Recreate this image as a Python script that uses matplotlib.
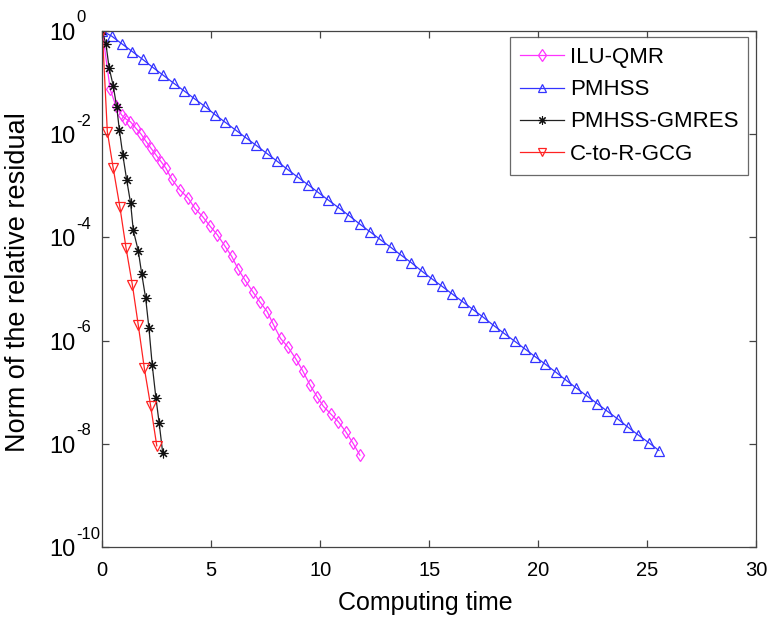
import matplotlib
matplotlib.use("Agg")
import numpy as np
import matplotlib.pyplot as plt
from matplotlib.ticker import FixedLocator, NullLocator
from matplotlib.transforms import ScaledTranslation

plt.rcParams['font.family'] = ['Liberation Sans', 'DejaVu Sans']

# ---- data ----
ilu_qmr_t = [0, 0.36, 0.62, 0.89, 1.06, 1.29, 1.55, 1.78, 1.99, 2.23,
             2.46, 2.69, 2.92, 3.18, 3.56, 3.94, 4.25, 4.61, 4.94, 5.28,
             5.63, 5.94, 6.24, 6.55, 6.90, 7.23, 7.57, 7.84, 8.18, 8.53,
             8.89, 9.19, 9.53, 9.86, 10.14, 10.48, 10.83, 11.18, 11.51, 11.82]
ilu_qmr_r = [1.0, 0.0741, 0.0355, 0.0234, 0.0200, 0.0174, 0.0129, 0.0100, 7.41e-3, 5.37e-3,
             3.98e-3, 2.95e-3, 2.19e-3, 1.35e-3, 8.32e-4, 5.75e-4, 3.63e-4, 2.51e-4, 1.66e-4, 1.12e-4,
             6.76e-5, 4.27e-5, 2.40e-5, 1.48e-5, 8.91e-6, 5.62e-6, 3.63e-6, 2.09e-6, 1.10e-6, 7.41e-7,
             4.37e-7, 2.63e-7, 1.38e-7, 8.13e-8, 5.37e-8, 3.80e-8, 2.69e-8, 1.70e-8, 1.02e-8, 6.03e-9]

pmhss_t = [0, 0.43, 0.90, 1.38, 1.85, 2.33, 2.80, 3.27, 3.75, 4.22, 4.70,
           5.17, 5.64, 6.12, 6.59, 7.07, 7.54, 8.01, 8.49, 8.96, 9.44,
           9.91, 10.38, 10.86, 11.33, 11.81, 12.28, 12.75, 13.23, 13.70, 14.18,
           14.65, 15.12, 15.60, 16.07, 16.55, 17.02, 17.49, 17.97, 18.44, 18.92,
           19.39, 19.86, 20.34, 20.81, 21.29, 21.76, 22.23, 22.71, 23.18, 23.66,
           24.13, 24.60, 25.08, 25.55]
pmhss_r = [1.0, 0.794, 0.562, 0.398, 0.282, 0.195, 0.138, 0.0977, 0.0692, 0.0490, 0.0347,
           0.0240, 0.0170, 0.0120, 8.51e-3, 6.03e-3, 4.27e-3, 3.02e-3, 2.09e-3, 1.48e-3, 1.05e-3,
           7.41e-4, 5.25e-4, 3.72e-4, 2.63e-4, 1.82e-4, 1.29e-4, 9.12e-5, 6.46e-5, 4.57e-5, 3.24e-5,
           2.24e-5, 1.58e-5, 1.12e-5, 7.94e-6, 5.62e-6, 3.98e-6, 2.82e-6, 1.95e-6, 1.38e-6, 9.77e-7,
           6.92e-7, 4.90e-7, 3.47e-7, 2.45e-7, 1.70e-7, 1.20e-7, 8.51e-8, 6.03e-8, 4.27e-8, 3.02e-8,
           2.09e-8, 1.48e-8, 1.05e-8, 7.41e-9]

gmres_t = [0, 0.17, 0.31, 0.50, 0.66, 0.78, 0.94, 1.12, 1.30, 1.42,
           1.65, 1.81, 1.99, 2.14, 2.29, 2.46, 2.61, 2.77]
gmres_r = [1.0, 0.550, 0.195, 0.0871, 0.0339, 0.0123, 3.98e-3, 1.29e-3, 4.57e-4, 1.38e-4,
           5.50e-5, 1.95e-5, 6.61e-6, 1.74e-6, 3.39e-7, 7.76e-8, 2.51e-8, 6.76e-9]

gcg_t = [0, 0.23, 0.50, 0.81, 1.09, 1.38, 1.65, 1.93, 2.22, 2.50]
gcg_r = [1.0, 0.0112, 2.19e-3, 3.80e-4, 6.17e-5, 1.20e-5, 2.00e-6, 2.88e-7, 5.37e-8, 9.12e-9]

labels = ['ILU-QMR', 'PMHSS', 'PMHSS-GMRES', 'C-to-R-GCG']
x_ticks = [0, 5, 10, 15, 20, 25, 30]
y_ticks = [1e-10, 1e-8, 1e-6, 1e-4, 1e-2, 1e0]

# ---- figure ----
fig = plt.figure(figsize=(7.71, 6.19), dpi=100)
ax = fig.add_axes([0.1327, 0.1163, 0.8478, 0.8337])

lw = 0.9
ax.plot(ilu_qmr_t, ilu_qmr_r, color='#ff33ff', lw=lw, marker='d', ms=6.5,
        mfc='none', mec='#ff33ff', mew=0.9, label=labels[0])
ax.plot(pmhss_t, pmhss_r, color='#3333ff', lw=lw, marker='^', ms=7,
        mfc='none', mec='#3333ff', mew=0.9, label=labels[1])
ax.plot(gmres_t, gmres_r, color='#222222', lw=lw, marker=(8, 2, 0), ms=7,
        mfc='none', mec='#111111', mew=0.8, label=labels[2])
ax.plot(gcg_t, gcg_r, color='#ff2222', lw=lw, marker='v', ms=7,
        mfc='none', mec='#ff2222', mew=0.9, label=labels[3])

ax.set_yscale('log')
ax.set_xlim(0, 30)
ax.set_ylim(1e-10, 1e0)
ax.xaxis.set_major_locator(FixedLocator(x_ticks))
ax.yaxis.set_major_locator(FixedLocator(y_ticks))
ax.yaxis.set_minor_locator(NullLocator())

for s in ax.spines.values():
    s.set_color('#444444')
    s.set_linewidth(0.9)
ax.tick_params(which='both', direction='in', top=True, right=True,
               length=5, width=0.9, color='#444444', labelsize=14.5)
ax.tick_params(axis='x', pad=10)
ax.tick_params(axis='y', labelleft=False)

# y tick labels: "10" with raised exponent
ytr = ax.get_yaxis_transform()
px = 1.0 / fig.dpi
base_tr = ytr + ScaledTranslation(-27.3 * px, -9 * px, fig.dpi_scale_trans)
sup_tr = ytr + ScaledTranslation(-26.0 * px, 8.5 * px, fig.dpi_scale_trans)
for t in y_ticks:
    e = int(round(np.log10(t)))
    ax.text(0, t, '10', transform=base_tr, ha='right', va='baseline',
            fontsize=17, clip_on=False)
    ax.text(0, t, str(e), transform=sup_tr, ha='left', va='baseline',
            fontsize=12, clip_on=False)

ax.set_xlabel('Computing time', fontsize=18)
ax.xaxis.label.set_va('baseline')
ax.xaxis.set_label_coords(0.494, -0.122)

ax.set_ylabel('Norm of the relative residual', fontsize=19.5,
              rotation_mode='anchor', va='baseline', ha='center')
ax.yaxis.set_label_coords(-0.118, 0.514)

leg = ax.legend(loc='upper right', bbox_to_anchor=(0.9882, 0.9878),
                fontsize=16, frameon=True, fancybox=False, handlelength=2.0,
                handletextpad=0.25, borderpad=0.45, labelspacing=0.5,
                borderaxespad=0.0)
leg.get_frame().set_edgecolor('#444444')
leg.get_frame().set_linewidth(0.9)
for h in leg.legend_handles:
    h.set_markersize(6)

fig.savefig('out.png', dpi=100)
